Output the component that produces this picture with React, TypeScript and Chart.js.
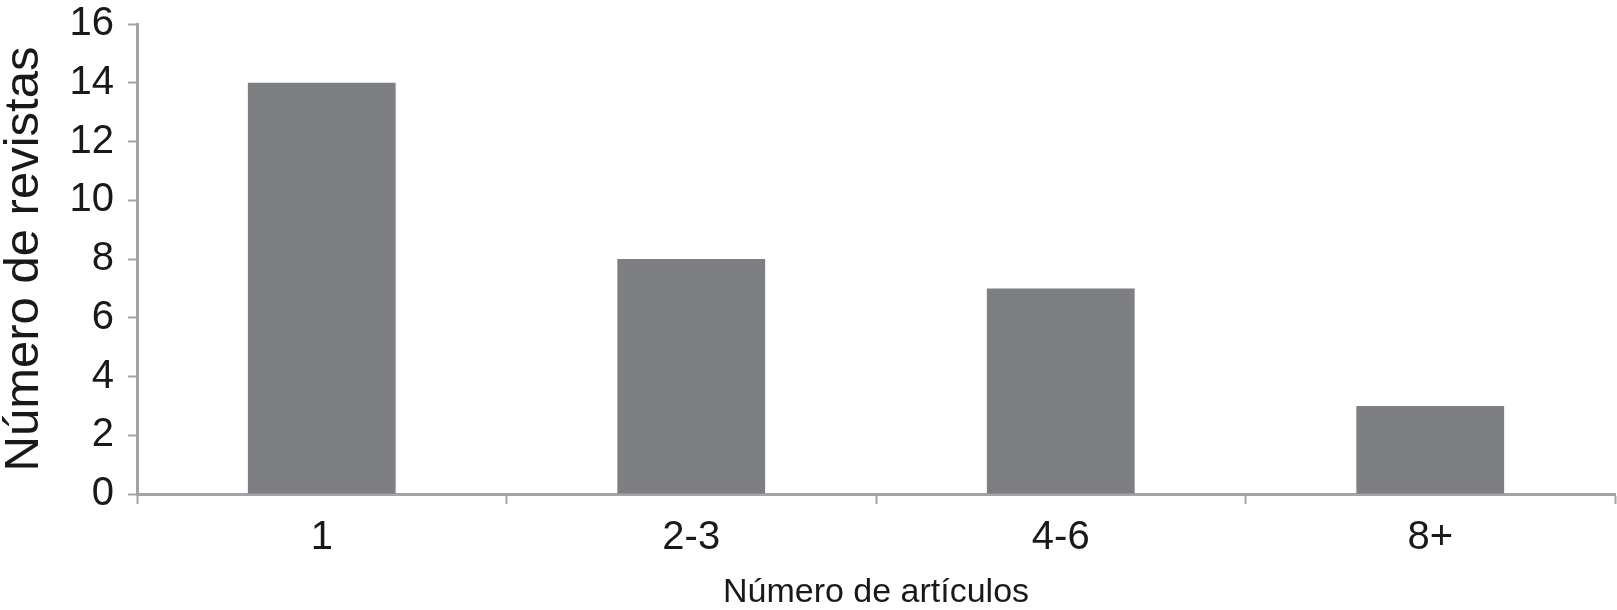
import React, { useEffect, useRef } from "react";
import { Chart, registerables } from "chart.js";

Chart.register(...registerables);

const categories = ["1", "2-3", "4-6", "8+"];
const revistas = [14, 8, 7, 3];
const yTicks = [0, 2, 4, 6, 8, 10, 12, 14, 16];

const FAMILY = "'Liberation Sans', Arial, Helvetica, sans-serif";
const TEXT = "#1a1819";
const AXIS = "#a4a4a6";
const BAR = "#7e7f83";

export default function App() {
  const ref = useRef<HTMLCanvasElement | null>(null);

  useEffect(() => {
    if (!ref.current) return;
    const chart = new Chart(ref.current, {
      type: "bar",
      data: {
        labels: categories,
        datasets: [
          {
            label: "Número de revistas",
            data: revistas,
            backgroundColor: BAR,
            borderWidth: 0,
            barPercentage: 0.4,
            categoryPercentage: 1,
          },
        ],
      },
      options: {
        responsive: false,
        animation: false,
        layout: { padding: { top: 24, right: 2, left: 0, bottom: 0 } },
        plugins: {
          legend: { display: false },
          tooltip: { enabled: false },
        },
        scales: {
          x: {
            offset: true,
            grid: {
              display: true,
              offset: true,
              drawOnChartArea: false,
              drawTicks: true,
              tickLength: 10,
              tickWidth: 2,
              tickColor: AXIS,
            },
            border: { display: true, color: AXIS, width: 3 },
            ticks: {
              color: TEXT,
              font: { size: 40, family: FAMILY },
              padding: 10,
              maxRotation: 0,
            },
            title: {
              display: true,
              text: "Número de artículos",
              color: TEXT,
              font: { size: 34, family: FAMILY, lineHeight: 1 },
              padding: { top: 0, bottom: 0 },
            },
            afterFit: (s: any) => {
              s.height = 116;
              s.paddingLeft = 0;
              s.paddingRight = 0;
            },
          },
          y: {
            min: 0,
            max: 16,
            afterBuildTicks: (s: any) => {
              s.ticks = yTicks.map((v) => ({ value: v }));
            },
            grid: {
              display: true,
              drawOnChartArea: false,
              drawTicks: true,
              tickLength: 9,
              tickWidth: 2,
              tickColor: AXIS,
            },
            border: { display: true, color: AXIS, width: 3 },
            ticks: {
              color: TEXT,
              font: { size: 40, family: FAMILY },
              padding: 14,
            },
            title: {
              display: true,
              text: "Número de revistas",
              color: TEXT,
              font: { size: 49, family: FAMILY, lineHeight: 1 },
              padding: { top: 0, bottom: 0 },
            },
            afterFit: (s: any) => {
              s.width = 137;
              s.paddingTop = 0;
              s.paddingBottom = 0;
            },
          },
        },
      },
    });
    return () => chart.destroy();
  }, []);

  return (
    <div style={{ position: "absolute", left: 0, top: 0, width: 1617, height: 610, background: "#fff" }}>
      <canvas ref={ref} width={1617} height={610} style={{ display: "block" }} />
    </div>
  );
}
